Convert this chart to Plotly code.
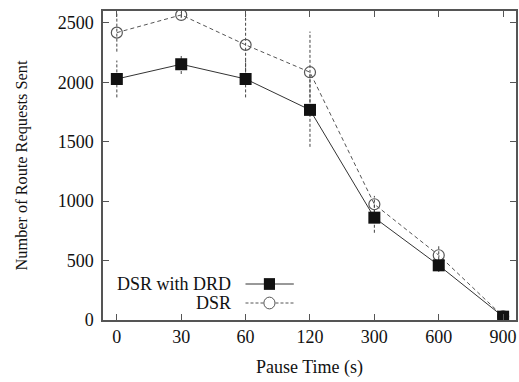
import plotly.graph_objects as go

# Pause times (s) and route request counts
pause_times = ["0", "30", "60", "120", "300", "600", "900"]
drd_requests = [2028, 2152, 2028, 1768, 861, 460, 28]
drd_err = [155, 82, 155, 311, 127, 55, 0]
dsr_requests = [2418, 2567, 2315, 2085, 974, 545, 30]
dsr_err = [160, 25, 260, 342, 70, 76, 0]

y_ticks = [0, 500, 1000, 1500, 2000, 2500]

FONT = "Liberation Serif"
FRAME = "#555555"


def err_segments(xs, ys, es):
    bx, by = [], []
    for x, y, e in zip(xs, ys, es):
        bx += [x, x, None]
        by += [y - e, y + e, None]
    return bx, by


fig = go.Figure()

# error bars (dashed vertical segments)
for ys, es in ((dsr_requests, dsr_err), (drd_requests, drd_err)):
    bx, by = err_segments(pause_times, ys, es)
    fig.add_trace(go.Scatter(
        x=bx, y=by, mode="lines", showlegend=False, hoverinfo="skip",
        line=dict(color="#444444", width=1, dash="3px,2px"),
    ))

fig.add_trace(go.Scatter(
    x=pause_times, y=dsr_requests, mode="lines+markers", name="DSR",
    line=dict(color="#555555", width=1, dash="4px,3px"),
    marker=dict(symbol="circle-open", size=11, color="#555555",
                line=dict(width=1.2, color="#555555")),
    showlegend=False,
))
fig.add_trace(go.Scatter(
    x=pause_times, y=drd_requests, mode="lines+markers", name="DSR with DRD",
    line=dict(color="#333333", width=1),
    marker=dict(symbol="square", size=12, color="#111111"),
    showlegend=False,
))

# key in the lower-left corner: label on the left, line sample on the right
key_rows = [("DSR with DRD", 0.1165, "solid", "#333333", "square"),
            ("DSR", 0.055, "3px,2px", "#555555", "circle")]
x0, x1, xm = 0.345, 0.462, 0.403
for label, yk, dash, col, sym in key_rows:
    fig.add_annotation(
        x=0.315, y=yk, xref="paper", yref="paper", text=label,
        showarrow=False, xanchor="right", yanchor="middle",
        font=dict(family=FONT, size=18, color="#111111"),
    )
    fig.add_shape(type="line", xref="paper", yref="paper",
                  x0=x0, x1=x1, y0=yk, y1=yk,
                  line=dict(color=col, width=1, dash=dash))
    hw, hh = 0.0135, 0.019
    if sym == "square":
        fig.add_shape(type="rect", xref="paper", yref="paper",
                      x0=xm - hw, x1=xm + hw, y0=yk - hh, y1=yk + hh,
                      fillcolor="#111111", line=dict(width=0))
    else:
        fig.add_shape(type="circle", xref="paper", yref="paper",
                      x0=xm - hw, x1=xm + hw, y0=yk - hh, y1=yk + hh,
                      fillcolor="white", line=dict(color=col, width=1))

fig.update_layout(
    width=519, height=382,
    margin=dict(l=103, r=1, t=11, b=62),
    plot_bgcolor="white", paper_bgcolor="white",
    font=dict(family=FONT, size=18, color="#111111"),
    showlegend=False,
)
fig.update_xaxes(
    type="category", categoryorder="array", categoryarray=pause_times,
    range=[-0.215, 6.2],
    showline=True, linecolor=FRAME, linewidth=1.5, mirror="ticks",
    ticks="inside", ticklen=6, tickcolor=FRAME, tickwidth=1,
    tickfont=dict(family=FONT, size=18),
    showgrid=False, zeroline=False,
    title=dict(text="Pause Time (s)", font=dict(family=FONT, size=18), standoff=14),
)
fig.update_yaxes(
    range=[0, 2600], tickvals=y_ticks,
    showline=True, linecolor=FRAME, linewidth=1.5, mirror="ticks",
    ticks="inside", ticklen=6, tickcolor=FRAME, tickwidth=1,
    tickfont=dict(family=FONT, size=18), ticklabelstandoff=4,
    showgrid=False, zeroline=False,
    title=dict(text="Number of Route Requests Sent", font=dict(family=FONT, size=16.3), standoff=26),
)

fig.write_html("out.html")
